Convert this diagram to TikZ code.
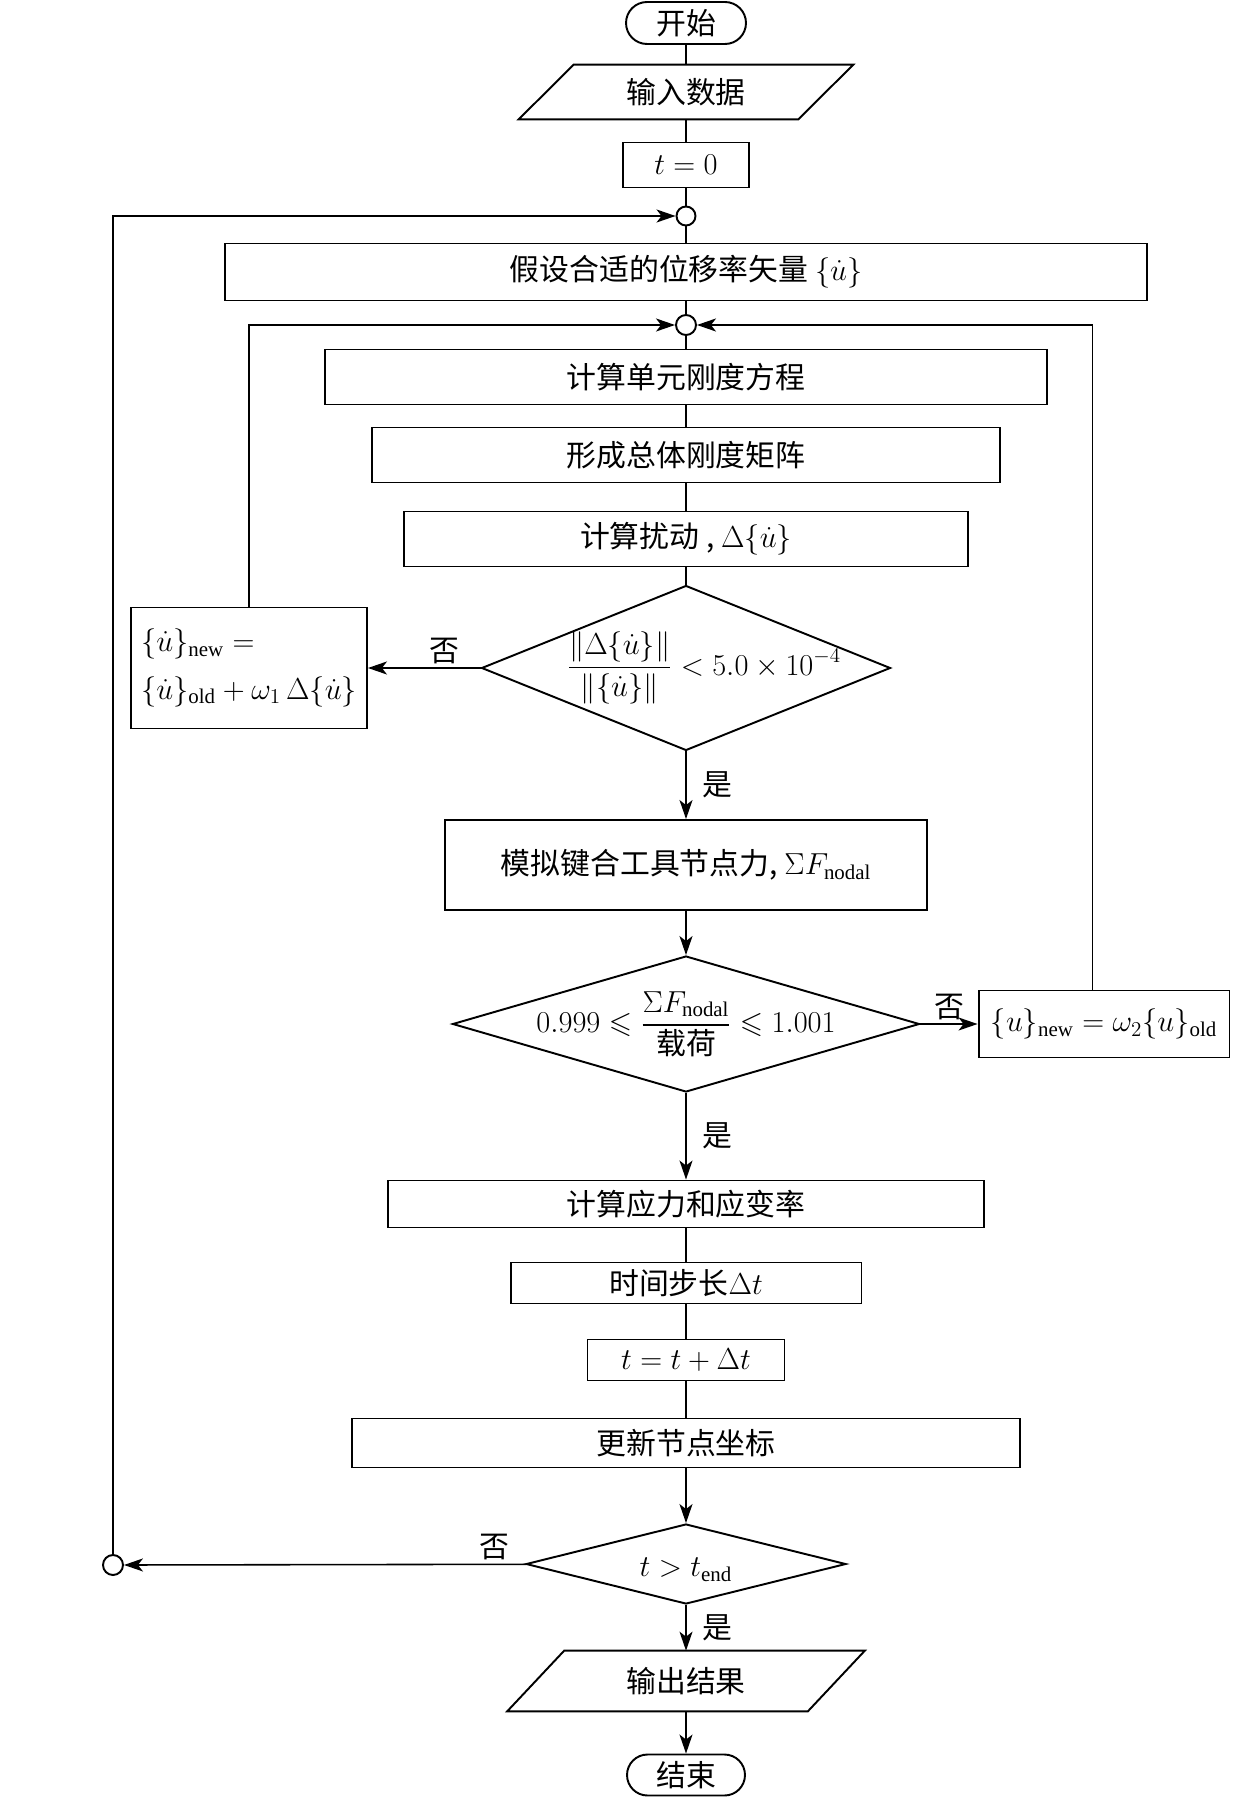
\documentclass[tikz,border=0pt]{standalone}
\usepackage{amsmath, amssymb}
\usepackage{fontspec}
\setmainfont{Liberation Serif}
\newfontfamily\cjk{Noto Sans CJK SC}
\usepackage{tikz}
\usetikzlibrary{arrows.meta,shapes,shapes.geometric,shapes.misc,positioning,calc}

\begin{document}
\begin{tikzpicture}[x=0.02cm, y=-0.02cm,
  every node/.style={font=\cjk\fontsize{17}{22}\selectfont},
  box/.style={draw, line width=1.1pt, rectangle, inner sep=0pt},
  term/.style={draw, line width=1.1pt, rounded rectangle, inner sep=0pt},
  dia/.style={draw, line width=1.1pt, diamond, inner sep=0pt},
  joint/.style={draw, line width=1.1pt, circle, inner sep=0pt, minimum size=0.4cm},
  band/.style={rectangle, inner sep=0pt},
  frame/.style={draw, line width=1.1pt},
  link/.style={line width=0.9pt},
  arr/.style={line width=0.9pt, -{Stealth[length=0.38cm, width=0.26cm, inset=0.1cm]}},
  tag/.style={inner sep=2pt}]
\useasboundingbox (0,0) rectangle (1232,1797);

% main column
\node[term, minimum width=2.4cm, minimum height=0.84cm] (start) at (686,23) {开始};
\node[band, minimum width=5.58cm, minimum height=1.08cm] (in1) at (686,92) {输入数据};
\draw[frame] ([xshift=0.55cm]in1.north west) -- ([xshift=0.55cm]in1.north east) -- ([xshift=-0.55cm]in1.south east) -- ([xshift=-0.55cm]in1.south west) -- cycle;
\node[box, minimum width=2.52cm, minimum height=0.9cm] (t0) at (686,165) {$t=0$};
\node[joint, minimum size=0.38cm] (c1) at (686,216) {};
\node[box, minimum width=18.46cm, minimum height=1.14cm] (guess) at (686,272) {假设合适的位移率矢量 $\{\dot{u}\}$};
\node[joint] (c2) at (686,325) {};
\node[box, minimum width=14.44cm, minimum height=1.1cm] (elem) at (686,377) {计算单元刚度方程};
\node[box, minimum width=12.56cm, minimum height=1.1cm] (glob) at (686,455) {形成总体刚度矩阵};
\node[box, minimum width=11.3cm, minimum height=1.1cm] (pert) at (686,539) {计算扰动 , $\Delta\{\dot{u}\}$};
\node[dia, minimum width=8.18cm, minimum height=3.3cm] (conv) at (686,668) {};
\node (convt) at (704,668) {$\displaystyle\frac{\|\Delta\{\dot{u}\}\|}{\|\{\dot{u}\}\|}<5.0\times10^{-4}$};
\node[box, align=left, minimum width=4.72cm, minimum height=2.42cm] (upd1) at (249,668) {$\{\dot{u}\}_{\mathrm{new}}=$\\[5pt]$\{\dot{u}\}_{\mathrm{old}}+\omega_1\,\Delta\{\dot{u}\}$};
\node[box, minimum width=9.64cm, minimum height=1.8cm] (force) at (686,865) {模拟键合工具节点力, $\Sigma F_{\mathrm{nodal}}$};
\node[dia, minimum width=9.34cm, minimum height=2.72cm] (bal) at (686,1024) {};
\node (balt) at (686,1024) {$0.999\leqslant\dfrac{\Sigma F_{\mathrm{nodal}}}{\text{载荷}}\leqslant1.001$};
\node[box, minimum width=5.02cm, minimum height=1.34cm] (upd2) at (1104,1024) {$\{u\}_{\mathrm{new}}=\omega_2\{u\}_{\mathrm{old}}$};
\node[box, minimum width=11.94cm, minimum height=0.94cm] (stress) at (686,1204) {计算应力和应变率};
\node[box, minimum width=7.02cm, minimum height=0.82cm] (dt) at (686,1283) {时间步长$\Delta t$};
\node[box, minimum width=3.94cm, minimum height=0.82cm] (tinc) at (686,1360) {$t=t+\Delta t$};
\node[box, minimum width=13.38cm, minimum height=0.98cm] (coord) at (686,1443) {更新节点坐标};
\node[dia, minimum width=6.4cm, minimum height=1.6cm] (tend) at (686,1564) {};
\node (tendt) at (686,1570) {$t>t_{\mathrm{end}}$};
\node[joint] (c3) at (113,1565) {};
\node[band, minimum width=6.0cm, minimum height=1.2cm] (out1) at (686,1681) {输出结果};
\draw[frame] ([xshift=0.57cm]out1.north west) -- ([xshift=0.57cm]out1.north east) -- ([xshift=-0.57cm]out1.south east) -- ([xshift=-0.57cm]out1.south west) -- cycle;
\node[term, minimum width=2.36cm, minimum height=0.82cm] (stop) at (686,1775) {结束};

% connectors
\draw[link] (start) -- (in1);
\draw[link] (in1) -- (t0);
\draw[link] (t0) -- (c1);
\draw[link] (c1) -- (guess);
\draw[link] (guess) -- (c2);
\draw[link] (c2) -- (elem);
\draw[link] (elem) -- (glob);
\draw[link] (glob) -- (pert);
\draw[link] (pert) -- (conv);
\draw[arr] (conv) -- node[tag, pos=0.32, above] {否} (upd1);
\draw[arr] (upd1.north) |- (c2);
\draw[arr] (conv) -- node[right=0.2cm] {是} (force);
\draw[arr] (force) -- (bal);
\draw[arr] (bal) -- node[tag, above] {否} (upd2);
\draw[arr] ([xshift=-0.23cm]upd2.north) |- (c2);
\draw[arr] (bal) -- node[right=0.2cm] {是} (stress);
\draw[link] (stress) -- (dt);
\draw[link] (dt) -- (tinc);
\draw[link] (tinc) -- (coord);
\draw[arr] (coord) -- (tend);
\draw[arr] (tend) -- node[tag, pos=0.08, above] {否} (c3);
\draw[arr] (c3) |- (c1);
\draw[arr] (tend) -- node[right=0.2cm] {是} (out1);
\draw[arr] (out1) -- (stop);
\end{tikzpicture}
\end{document}
